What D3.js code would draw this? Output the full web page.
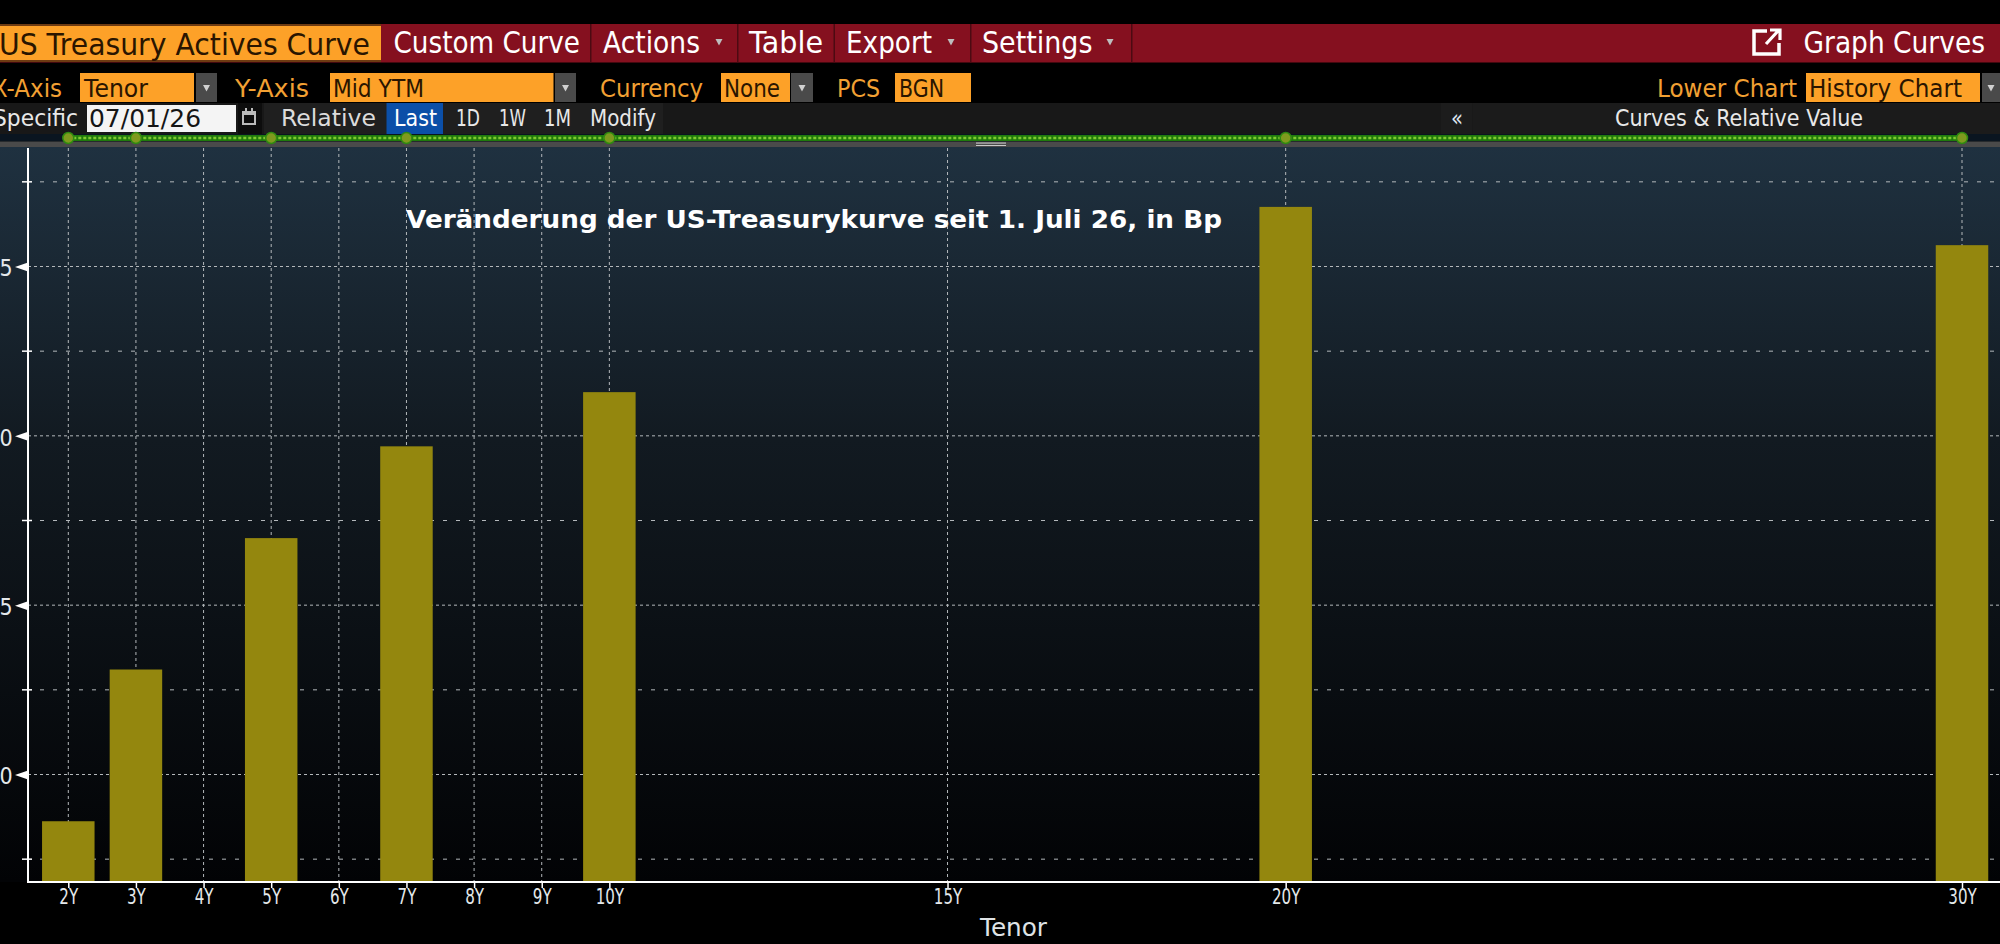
<!DOCTYPE html>
<html>
<head>
<meta charset="utf-8">
<script src="https://cdn.jsdelivr.net/npm/d3@7"></script>
<style>
html,body{margin:0;padding:0;background:#000;overflow:hidden}
svg{display:block}
text{font-family:"DejaVu Sans",sans-serif}
</style>
</head>
<body>
<svg id="c" width="2000" height="944"></svg>
<script>
// ---- data ----
const tenorLabels = ["2Y","3Y","5Y","7Y","10Y","20Y","30Y"];
const tenorYears  = [2,3,5,7,10,20,30];
const changesBp   = [8.62,13.10,16.98,19.69,21.29,26.76,25.63];
const xTickYears  = [2,3,4,5,6,7,8,9,10,15,20,30];
const yMajorTicks = [10,15,20,25];
const yMinorTicks = [7.5,12.5,17.5,22.5,27.5];
const chartTitle  = "Veränderung der US-Treasurykurve seit 1. Juli 26, in Bp";
const xAxisTitle  = "Tenor";

const svg = d3.select("#c");
const ORANGE = "#fda128", TXT_OR = "#f2a033", RED = "#85101f", BAR = "#94870e", GRID = "#b4b8bb";
const FS = "DejaVu Sans";

function fit(t, x0, x1, base, size, fill, weight){
  return svg.append("text").attr("x", x0).attr("y", base).attr("font-size", size)
    .attr("fill", fill).attr("font-weight", weight || 400)
    .attr("textLength", x1 - x0).attr("lengthAdjust", "spacingAndGlyphs").text(t);
}
function box(x0, y0, x1, y1, fill){
  return svg.append("rect").attr("x", x0).attr("y", y0).attr("width", x1 - x0).attr("height", y1 - y0).attr("fill", fill);
}
function caret(cx, cy, fill){
  svg.append("path").attr("d", `M${cx-3.5},${cy-3}L${cx+3.5},${cy-3}L${cx},${cy+3.5}Z`).attr("fill", fill || "#bdbdbd");
}

// ---- plot background ----
const defs = svg.append("defs");
const g1 = defs.append("linearGradient").attr("id","bg").attr("x1",0).attr("x2",0).attr("y1",0).attr("y2",1);
g1.append("stop").attr("offset",0).attr("stop-color","#1f3140");
g1.append("stop").attr("offset",0.4).attr("stop-color","#121a21");
g1.append("stop").attr("offset",1).attr("stop-color","#020305");
box(0,147,2000,882,"url(#bg)");

// ---- scales ----
const x = d3.scaleLinear().domain([2,30]).range([68.3,1962]);
const y = d3.scaleLinear().domain([10,25]).range([774.5,266.5]);
const plotTop = 148, plotBottom = 882, axisX = 28, barW = 52.5;

// ---- grid ----
const grid = svg.append("g").attr("stroke", GRID).attr("stroke-width", 1).attr("fill","none");
grid.selectAll(".v").data(xTickYears).join("line")
  .attr("x1", d=>x(d)).attr("x2", d=>x(d)).attr("y1", plotTop).attr("y2", plotBottom)
  .attr("stroke-dasharray","3 3");
grid.selectAll(".h").data(yMajorTicks).join("line")
  .attr("x1", axisX).attr("x2", 2000).attr("y1", d=>y(d)).attr("y2", d=>y(d))
  .attr("stroke-dasharray","3 3");
grid.selectAll(".m").data(yMinorTicks).join("line")
  .attr("x1", axisX+12).attr("x2", 2000).attr("y1", d=>y(d)).attr("y2", d=>y(d))
  .attr("stroke-dasharray","4 9");

// ---- bars ----
svg.append("g").selectAll("rect").data(tenorYears).join("rect")
  .attr("x", d=>x(d)-barW/2).attr("width", barW)
  .attr("y", (d,i)=>y(changesBp[i])).attr("height", (d,i)=>plotBottom-y(changesBp[i]))
  .attr("fill", BAR);

// ---- axes ----
const xAxis = d3.axisBottom(x).tickValues(xTickYears).tickFormat(d=>d+"Y").tickSize(6).tickSizeOuter(0);
const gx = svg.append("g").attr("transform",`translate(0,${plotBottom})`).call(xAxis);
gx.select(".domain").remove();
gx.selectAll("line").attr("stroke","#fff").attr("stroke-width",1.5);
gx.selectAll("text").attr("fill","#e4e8ea").attr("font-size",21).attr("font-family",FS).attr("y",7).attr("dy","0.71em")
  .attr("transform","scale(0.72,1)");
svg.append("line").attr("x1",axisX-1).attr("x2",2000).attr("y1",plotBottom).attr("y2",plotBottom).attr("stroke","#fff").attr("stroke-width",2);
svg.append("line").attr("x1",axisX).attr("x2",axisX).attr("y1",135).attr("y2",141).attr("stroke","#fff").attr("stroke-width",1.5);
svg.append("line").attr("x1",axisX).attr("x2",axisX).attr("y1",plotTop).attr("y2",plotBottom+1).attr("stroke","#fff").attr("stroke-width",2);

const yAxis = d3.axisLeft(y).tickValues(yMajorTicks).tickSize(0).tickPadding(15).tickFormat(d3.format("d"));
const gy = svg.append("g").attr("transform",`translate(${axisX},0)`).call(yAxis);
gy.select(".domain").remove();
gy.selectAll("text").attr("fill","#e4e8ea").attr("font-size",23).attr("font-family",FS).attr("dy","0.4em")
  .attr("x",-17).attr("transform","scale(0.9,1)");
gy.selectAll(".tick").append("path").attr("d","M-13,0L0,-4.5L0,4.5Z").attr("fill","#fff");
svg.append("g").selectAll("line").data(yMinorTicks).join("line")
  .attr("x1",axisX-6).attr("x2",axisX+4).attr("y1",d=>y(d)).attr("y2",d=>y(d)).attr("stroke","#fff").attr("stroke-width",1.5);

// ---- title & axis title ----
fit(chartTitle, 406, 1222, 228, 25.5, "#ffffff", 700);
fit(xAxisTitle, 980, 1047, 936, 25, "#dfe3e6");

// ---- top toolbar ----
box(0,24,2000,62.5,RED);
box(0,26,381,60,ORANGE);
box(0,24,381,26,"#6e3b12"); box(0,60,381,62,"#6e3b12");
fit("US Treasury Actives Curve", -1, 370, 55, 30, "#2a1500");
[590,737,833.5,970,1131].forEach(s=>box(s,24,s+1.5,62.5,"#4c0a12"));
fit("Custom Curve",393.5,580,52.5,30,"#fff");
fit("Actions",603,700,52.5,30,"#fff"); caret(719,42);
fit("Table",749,823,52.5,30,"#fff");
fit("Export",846,932,52.5,30,"#fff"); caret(951,42);
fit("Settings",982,1092.5,52.5,30,"#fff"); caret(1110,42);
fit("Graph Curves",1803.5,1985,52.5,30,"#fff");
svg.append("path").attr("d","M1767,31H1754V54H1779V43").attr("fill","none").attr("stroke","#fff").attr("stroke-width",3.5);
svg.append("path").attr("d","M1766,44L1778,31M1770,30H1780V40").attr("fill","none").attr("stroke","#fff").attr("stroke-width",3.2);

// ---- second row ----
function dropdown(x0,x1){ box(x0,73,x1,102,"#4a4a4a"); caret((x0+x1)/2,88,"#d0d0d0"); }
fit("X-Axis",-8,62,97,25,TXT_OR);
box(80,73,194,102,ORANGE); fit("Tenor",84,148,97,25,"#2a1500"); dropdown(196,217);
fit("Y-Axis",235,309,97,25,TXT_OR);
box(330,73,553.5,102,ORANGE); fit("Mid YTM",333,424,97,25,"#2a1500"); dropdown(555,576);
fit("Currency",600,703,97,25,TXT_OR);
box(721,73,790,102,ORANGE); fit("None",724,780,97,25,"#2a1500"); dropdown(791,813);
fit("PCS",837,880,97,25,TXT_OR);
box(895,73,971,102,ORANGE); fit("BGN",899,944,97,25,"#2a1500");
fit("Lower Chart",1657,1797,97,25,TXT_OR);
box(1806,73,1980,102,ORANGE); fit("History Chart",1809,1962,97,25,"#2a1500"); dropdown(1982,2000);

// ---- third row ----
box(0,103,2000,134,"#181818");
box(264,103,663,134,"#1f1f1f");
fit("Specific",-7,78,126,23,"#e8e8e8");
box(87,105,236,132,"#f4f4f4"); fit("07/01/26",89,201,126.5,25,"#151515");
box(238,103,262,134,"#0d0d0d");
svg.append("rect").attr("x",243).attr("y",112).attr("width",12).attr("height",12).attr("fill","none").attr("stroke","#bbb").attr("stroke-width",2);
box(245,108,247,112,"#bbb"); box(251,108,253,112,"#bbb"); box(243,112,255,115,"#bbb");
fit("Relative",281,376,126,23,"#dcdcdc");
box(386.5,103,443,134,"#0b4fa8"); fit("Last",394,437,126,23,"#fff");
fit("1D",456,480,126,23,"#e8e8e8");
fit("1W",499,526,126,23,"#e8e8e8");
fit("1M",544,571,126,23,"#e8e8e8");
fit("Modify",590,656,126,23,"#e8e8e8");
box(1441,103,1472,134,"#1c1c1c"); box(1472.5,103,2000,134,"#1b1b1b");
fit("«",1451,1463,126,23,"#dfe6f0");
fit("Curves & Relative Value",1615,1863,126,23,"#e8e8e8");

// ---- overview strip with the green curve ----
box(0,134,2000,141.5,"#0a1520");
box(0,141.5,2000,147,"#4a4a4a");
box(976,142.5,1006,143.6,"#c8c8c8"); box(976,145,1006,146,"#c8c8c8");
svg.append("line").attr("x1",x(2)).attr("x2",x(30)).attr("y1",138).attr("y2",138)
  .attr("stroke","#1f7a0c").attr("stroke-width",6);
svg.append("line").attr("x1",x(2)).attr("x2",x(30)).attr("y1",138).attr("y2",138)
  .attr("stroke","#7fc92f").attr("stroke-width",2.5).attr("stroke-dasharray","3 2");
svg.append("g").selectAll("circle").data(tenorYears).join("circle")
  .attr("cx",d=>x(d)).attr("cy",138).attr("r",5.5).attr("fill","#7f9a1e").attr("stroke","#2f8a10").attr("stroke-width",1.5);
</script>
</body>
</html>
